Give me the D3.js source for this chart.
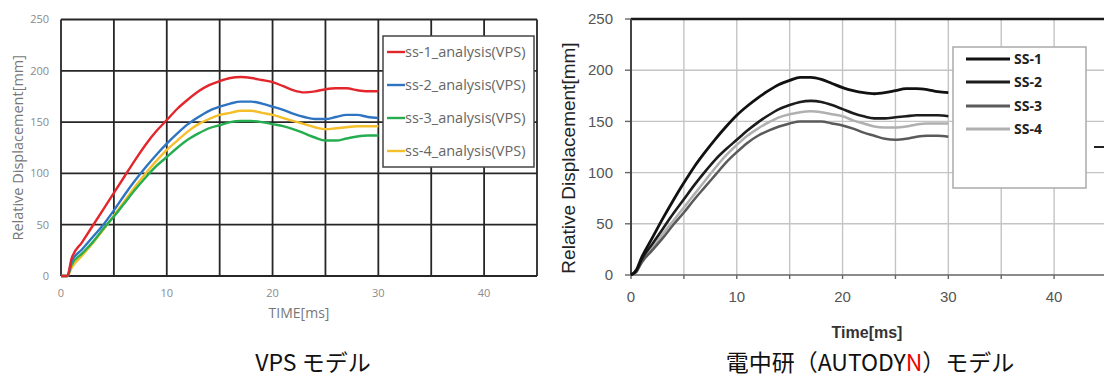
<!DOCTYPE html>
<html><head><meta charset="utf-8">
<script src="https://cdn.jsdelivr.net/npm/d3@7"></script>
<style>body{margin:0;background:#fff;overflow:hidden}</style>
</head><body>
<svg id="c" width="1104" height="380"></svg>
<script>
// ---------- data ----------
const timeVPS = [0,0.6,1,2,3,4,5,6,7,8,9,10,11,12,13,14,15,16,17,18,19,20,21,22,23,24,25,26,27,28,29,30];
const vps_ss1 = [0,0,17,33,49,65,81,97,113,128,141,152,163,172,180,186,190,193,194,193,191,189,185,181,179,180,182,183,183,181,180,180];
const vps_ss2 = [0,0,14,26,38,50,64,79,93,106,118,129,139,148,155,161,165,168,170,170,168,165,162,158,155,153,153,155,157,157,155,154];
const vps_ss3 = [0,0,11,22,33,46,58,71,84,96,107,116,125,133,139,144,147,150,151,151,150,148,146,143,139,135,132,132,134,136,137,137];
const vps_ss4 = [0,0,8,20,32,45,59,73,87,100,112,123,132,141,148,153,157,159,161,161,159,157,154,151,148,145,143,144,145,146,146,146];
const vpsNames = ["ss-1_analysis(VPS)","ss-2_analysis(VPS)","ss-3_analysis(VPS)","ss-4_analysis(VPS)"];

const timeAD = [0,0.5,1,2,3,4,5,6,7,8,9,10,11,12,13,14,15,16,17,18,19,20,21,22,23,24,25,26,27,28,29,30];
const ad_ss1 = [0,5,17,36,55,73,90,106,120,133,145,156,165,173,180,186,190,193,193,191,187,183,180,178,177,178,180,182,182,181,179,178];
const ad_ss2 = [0,4,15,30,45,60,74,88,101,113,123,132,141,149,156,162,166,169,170,169,166,162,158,155,153,153,154,155,156,156,156,155];
const ad_ss3 = [0,3,12,24,36,49,61,74,86,98,110,120,129,136,141,145,148,150,150,150,148,146,143,139,136,133,132,133,135,136,136,135];
const ad_ss4 = [0,3,13,26,40,53,66,79,92,105,117,127,136,143,149,154,157,159,160,159,157,155,151,148,145,144,144,145,147,148,148,148];
const adNames = ["SS-1","SS-2","SS-3","SS-4"];

const xTickLabels = [0,10,20,30,40];
const yTickLabels = [0,50,100,150,200,250];
const gridX = [0,5,10,15,20,25,30,35,40,45];

const svg = d3.select("#c");
svg.append("rect").attr("width",1104).attr("height",380).attr("fill","#fff");

// ---------- left chart (VPS) ----------
{
  const x = d3.scaleLinear().domain([0,45]).range([61,537]);
  const y = d3.scaleLinear().domain([0,250]).range([276,19.5]);
  const g = svg.append("g");
  const gridCol = "#262626";
  g.selectAll(".vx").data(gridX).join("line")
    .attr("x1",d=>x(d)).attr("x2",d=>x(d)).attr("y1",y(250)).attr("y2",y(0))
    .attr("stroke",gridCol).attr("stroke-width",1.8);
  g.selectAll(".hy").data(yTickLabels).join("line")
    .attr("x1",x(0)).attr("x2",x(45)).attr("y1",d=>y(d)).attr("y2",d=>y(d))
    .attr("stroke",gridCol).attr("stroke-width",1.8);
  g.selectAll(".yl").data(yTickLabels).join("text")
    .attr("x",49).attr("y",d=>y(d)).attr("dy","0.35em").attr("text-anchor","end")
    .attr("font-family","Open Sans").attr("font-size",11).attr("fill","#8a8a8a").text(d=>d);
  g.selectAll(".xl").data(xTickLabels).join("text")
    .attr("x",d=>x(d)).attr("y",293).attr("dy","0.35em").attr("text-anchor","middle")
    .attr("font-family","Open Sans").attr("font-size",11).attr("fill","#8a8a8a").text(d=>d);
  g.append("text").attr("x",(x(0)+x(45))/2).attr("y",313).attr("dy","0.35em").attr("text-anchor","middle")
    .attr("font-family","Open Sans").attr("font-size",14).attr("fill","#777").text("TIME[ms]");
  g.append("text").attr("transform",`translate(18,${(y(0)+y(250))/2}) rotate(-90)`).attr("dy","0.35em")
    .attr("text-anchor","middle").attr("font-family","Open Sans").attr("font-size",14.5).attr("fill","#777")
    .text("Relative Displacement[mm]");
  const series = [vps_ss1,vps_ss2,vps_ss3,vps_ss4];
  const colors = ["#e3262b","#2f74c0","#25ad50","#f4bf2a"];
  const line = d3.line().x((d,i)=>x(timeVPS[i])).y(d=>y(d)).curve(d3.curveMonotoneX);
  [3,2,1,0].forEach(k=>{
    g.append("path").attr("d",line(series[k])).attr("fill","none")
      .attr("stroke",colors[k]).attr("stroke-width",2.4);
  });
  const lg = g.append("g");
  lg.append("rect").attr("x",383).attr("y",36).attr("width",151).attr("height",131)
    .attr("fill","#fff").attr("stroke","#444").attr("stroke-width",1.5);
  const ly = [52,85,118,151];
  vpsNames.forEach((n,i)=>{
    lg.append("line").attr("x1",387).attr("x2",405).attr("y1",ly[i]).attr("y2",ly[i])
      .attr("stroke",colors[i]).attr("stroke-width",2.4);
    lg.append("text").attr("x",405).attr("y",ly[i]).attr("dy","0.35em")
      .attr("font-family","Open Sans").attr("font-size",14.5).attr("fill","#666").text(n);
  });
}

// ---------- right chart (AUTODYN) ----------
{
  const x = d3.scaleLinear().domain([0,45]).range([631,1107]);
  const y = d3.scaleLinear().domain([0,250]).range([275,19]);
  const g = svg.append("g");
  const gc = "#c4c4c4";
  g.selectAll(".vx").data(gridX.filter(d=>d>0 && d<45)).join("line")
    .attr("x1",d=>x(d)).attr("x2",d=>x(d)).attr("y1",y(250)).attr("y2",y(0))
    .attr("stroke",gc).attr("stroke-width",1.4);
  g.selectAll(".hy").data(yTickLabels.filter(d=>d>0 && d<250)).join("line")
    .attr("x1",x(0)).attr("x2",1104).attr("y1",d=>y(d)).attr("y2",d=>y(d))
    .attr("stroke",gc).attr("stroke-width",1.4);
  g.selectAll(".yt").data(yTickLabels).join("line")
    .attr("x1",x(0)-6).attr("x2",x(0)).attr("y1",d=>y(d)).attr("y2",d=>y(d))
    .attr("stroke","#666").attr("stroke-width",1.4);
  g.selectAll(".xt").data(gridX.filter(d=>d<45)).join("line")
    .attr("x1",d=>x(d)).attr("x2",d=>x(d)).attr("y1",y(0)).attr("y2",y(0)+4)
    .attr("stroke","#666").attr("stroke-width",1.4);
  g.append("line").attr("x1",x(0)).attr("x2",1104).attr("y1",y(250)).attr("y2",y(250))
    .attr("stroke","#1a1a1a").attr("stroke-width",2.6);
  g.append("line").attr("x1",x(0)).attr("x2",1104).attr("y1",y(0)).attr("y2",y(0))
    .attr("stroke","#666").attr("stroke-width",1.6);
  g.append("line").attr("x1",x(0)).attr("x2",x(0)).attr("y1",y(250)).attr("y2",y(0))
    .attr("stroke","#444").attr("stroke-width",2);
  g.selectAll(".yl").data(yTickLabels).join("text")
    .attr("x",613).attr("y",d=>y(d)).attr("dy","0.35em").attr("text-anchor","end")
    .attr("font-family","Liberation Sans").attr("font-size",15).attr("fill","#555").text(d=>d);
  g.selectAll(".xl").data(xTickLabels).join("text")
    .attr("x",d=>x(d)).attr("y",297).attr("dy","0.35em").attr("text-anchor","middle")
    .attr("font-family","Liberation Sans").attr("font-size",15).attr("fill","#555").text(d=>d);
  g.append("text").attr("x",867).attr("y",332).attr("dy","0.35em").attr("text-anchor","middle")
    .attr("font-family","Liberation Sans").attr("font-size",16).attr("font-weight","bold").attr("fill","#333").text("Time[ms]");
  g.append("text").attr("transform",`translate(568,158) rotate(-90)`).attr("dy","0.35em")
    .attr("text-anchor","middle").attr("font-family","Liberation Sans").attr("font-size",19).attr("fill","#222")
    .text("Relative Displacement[mm]");
  const series = [ad_ss1,ad_ss2,ad_ss3,ad_ss4];
  const colors = ["#111","#1c1c1c","#5a5a5a","#b0b0b0"];
  const widths = [2.8,2.6,2.5,2.5];
  const line = d3.line().x((d,i)=>x(timeAD[i])).y(d=>y(d)).curve(d3.curveMonotoneX);
  [3,2,1,0].forEach(k=>{
    g.append("path").attr("d",line(series[k])).attr("fill","none")
      .attr("stroke",colors[k]).attr("stroke-width",widths[k]);
  });
  const lg = g.append("g");
  lg.append("rect").attr("x",953).attr("y",47).attr("width",133).attr("height",141)
    .attr("fill","#fff").attr("stroke","#aaa").attr("stroke-width",1.5);
  const ly = [59,82,106,129];
  adNames.forEach((n,i)=>{
    lg.append("line").attr("x1",966).attr("x2",1010).attr("y1",ly[i]).attr("y2",ly[i])
      .attr("stroke",colors[i]).attr("stroke-width",widths[i]+0.4);
    lg.append("text").attr("x",1014).attr("y",ly[i]).attr("dy","0.35em")
      .attr("font-family","Open Sans").attr("font-size",14).attr("font-weight","bold").attr("fill","#222").text(n);
  });
  g.append("line").attr("x1",1094).attr("x2",1104).attr("y1",147).attr("y2",147)
    .attr("stroke","#222").attr("stroke-width",2);
}

// ---------- captions ----------
const capFont = "'Noto Sans CJK JP', sans-serif";
svg.append("text").attr("x",313).attr("y",363).attr("dy","0.35em").attr("text-anchor","middle")
  .attr("font-family",capFont).attr("font-size",23).attr("fill","#111").text("VPS モデル");
const c2 = svg.append("text").attr("x",870).attr("y",363).attr("dy","0.35em").attr("text-anchor","middle")
  .attr("font-family",capFont).attr("font-size",23).attr("fill","#111");
c2.append("tspan").text("電中研（AUTODY");
c2.append("tspan").attr("fill","#e00").text("N");
c2.append("tspan").text("）モデル");
</script>
</body></html>
